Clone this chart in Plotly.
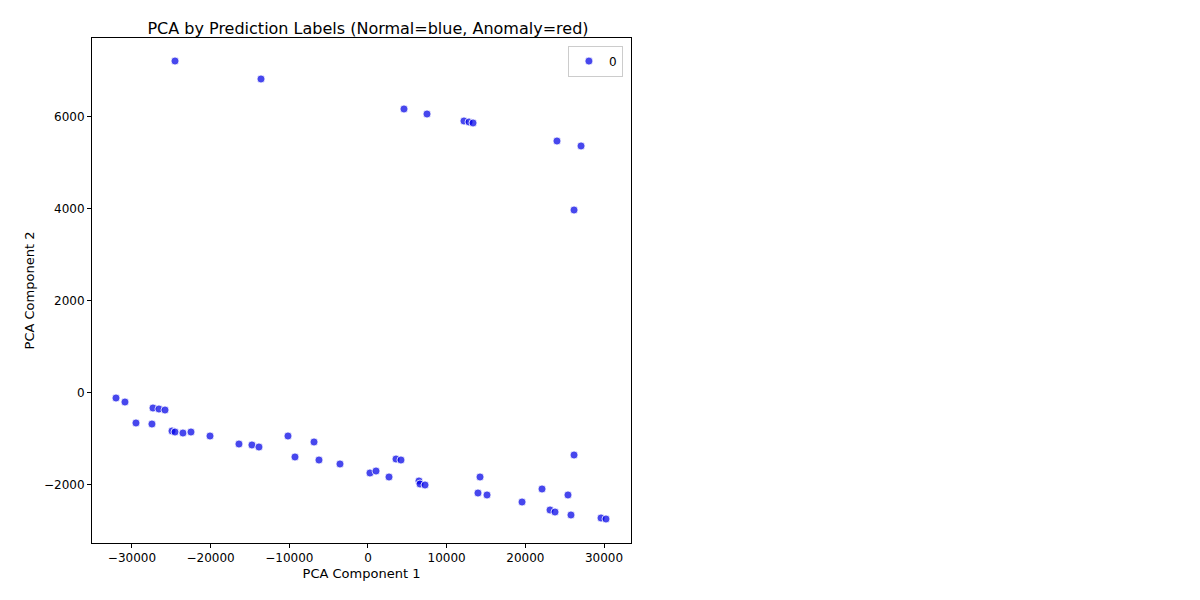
import plotly.graph_objects as go

pc1 = [-24530, -13600, 4576, 7500, 12200, 12840, 13350, 24020, 27080, 26190,
       -32030, -30890, -29490, -27460, -27330, -26570, -25800, -24910, -24530, -23520,
       -22500, -20080, -16400, -14750, -13860, -10170, -9280, -6860, -6230, -3560,
       250, 1020, 2670, 3560, 4190, 6480, 6610, 7250, 13980, 14240,
       15130, 19580, 22120, 23140, 23770, 25420, 25800, 26190, 29620, 30250]
pc2 = [7217, 6826, 6174, 6065, 5913, 5891, 5870, 5478, 5370, 3978,
       -109, -196, -652, -674, -326, -348, -370, -826, -848, -870,
       -848, -935, -1109, -1130, -1174, -935, -1391, -1065, -1457, -1543,
       -1739, -1696, -1826, -1435, -1457, -1913, -1978, -2000, -2174, -1826,
       -2217, -2370, -2087, -2543, -2587, -2217, -2652, -1348, -2717, -2739]

fig = go.Figure()
fig.add_trace(go.Scatter(
    x=pc1, y=pc2, mode='markers', name='0',
    marker=dict(size=8, color='rgba(0,0,230,0.72)', line=dict(color='white', width=0.8))
))

axis = dict(showgrid=False, zeroline=False, showline=True, mirror=True, linecolor='black',
            ticks='outside', ticklen=4, tickcolor='black', tickfont=dict(size=12, color='black'))
fig.update_layout(
    width=1200, height=600, plot_bgcolor='white', paper_bgcolor='white',
    font=dict(family='DejaVu Sans', color='black'),
    margin=dict(l=84, r=577, t=30, b=65, autoexpand=False),
    title=dict(text='PCA by Prediction Labels (Normal=blue, Anomaly=red)', x=0.3, xanchor='center',
               y=0.975, font=dict(size=16)),
    xaxis=dict(axis, range=[-35080, 33430], tickvals=list(range(-30000, 30001, 10000)),
               tickformat='d', title=dict(text='PCA Component 1', font=dict(size=13), standoff=4)),
    yaxis=dict(axis, range=[-3261, 7717], tickvals=list(range(-2000, 6001, 2000)),
               tickformat='d', title=dict(text='PCA Component 2', font=dict(size=13), standoff=6)),
    showlegend=True,
    legend=dict(x=0.985, y=0.985, xanchor='right', yanchor='top', bordercolor='#cccccc',
                borderwidth=1, font=dict(size=12), tracegroupgap=0)
)
fig.write_html("out.html")
